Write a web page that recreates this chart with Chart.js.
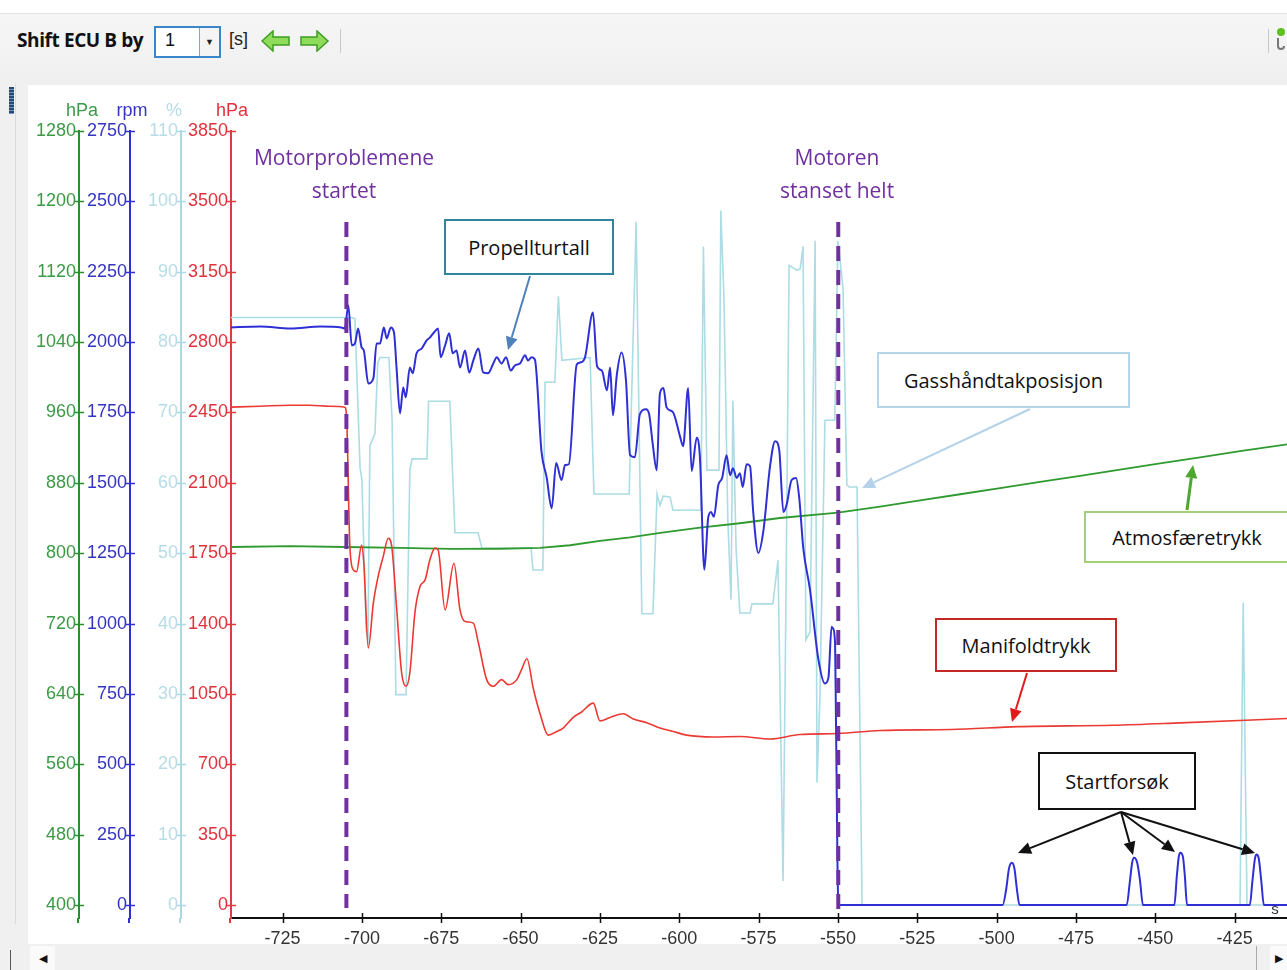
<!DOCTYPE html>
<html>
<head>
<meta charset="utf-8">
<script src="https://cdn.jsdelivr.net/npm/chart.js@4.4.1/dist/chart.umd.min.js"></script>
<style>
  html, body { margin: 0; padding: 0; }
  body { width: 1287px; height: 970px; overflow: hidden; position: relative; background: #fff; font-family: "Open Sans", sans-serif; }
  .toolbar { position: absolute; left: 0; top: 13px; width: 1287px; height: 71px; background: linear-gradient(#f6f6f6, #efefef); border-top: 1px solid #e2e2e2; }
  .tb-label { position: absolute; left: 17px; top: 13px; font-weight: bold; font-size: 19px; color: #111; letter-spacing: -0.4px; }
  .tb-select { position: absolute; left: 154px; top: 12px; width: 63px; height: 28px; border: 2px solid #3b86c8; background: #fff; }
  .tb-select .val { position: absolute; left: 9px; top: 2px; font-size: 18px; color: #111; font-family: "Liberation Sans", Arial, sans-serif; }
  .tb-select .drop { position: absolute; right: 0; top: 0; width: 19px; height: 28px; border-left: 1px solid #7fa6cc; background: #f4f4f4; font-size: 9px; text-align: center; line-height: 28px; color: #222; }
  .tb-unit { position: absolute; left: 229px; top: 15px; font-size: 18px; color: #222; font-family: "Liberation Sans", Arial, sans-serif; }
  .tb-arrows { position: absolute; left: 261px; top: 16px; }
  .tb-sep { position: absolute; top: 15px; width: 1px; height: 24px; background: #c8c8c8; }
  .leftstrip { position: absolute; left: 0; top: 84px; width: 28px; height: 860px; background: #f0f0f0; }
  .leftstrip .line { position: absolute; left: 15px; top: 0; width: 1px; height: 840px; background: #dadada; }
  .leftstrip .grip { position: absolute; left: 9px; top: 3px; width: 5px; height: 27px; background: repeating-linear-gradient(#27467a 0 2px, #6f8fc0 2px 3px); }
  #chartBox { position: absolute; left: 28px; top: 84px; width: 1259px; height: 860px; }
  .hscroll { position: absolute; left: 0; top: 944px; width: 1287px; height: 26px; background: #f0f0f0; }
  .hscroll .btn { position: absolute; top: 2px; width: 25px; height: 24px; background: #fafafa; font-size: 11px; line-height: 24px; text-align: center; color: #111; }
  .hscroll .vl { position: absolute; width: 1px; background: #555; }
  .title { position: absolute; width: 240px; text-align: center; color: #7030a0; font-size: 21px; line-height: 33px; }
  .ann { position: absolute; box-sizing: border-box; background: #fff; border: 2px solid #333; display: flex; align-items: center; justify-content: center; font-size: 20px; color: #111; }
</style>
</head>
<body>
<div class="toolbar">
  <div class="tb-label">Shift ECU B by</div>
  <div class="tb-select"><span class="val">1</span><div class="drop">&#9660;</div></div>
  <div class="tb-unit">[s]</div>
  <svg class="tb-arrows" width="72" height="22" viewBox="0 0 72 22">
    <polygon points="1,11 12,1 12,7 28,7 28,15 12,15 12,21" fill="#8fdc5a" stroke="#3f9c22" stroke-width="1.5"/>
    <polygon points="67,11 56,1 56,7 40,7 40,15 56,15 56,21" fill="#8fdc5a" stroke="#3f9c22" stroke-width="1.5"/>
  </svg>
  <div class="tb-sep" style="left:340px"></div>
  <div class="tb-sep" style="left:1268px"></div>
  <svg style="position:absolute;left:1274px;top:12px" width="13" height="26" viewBox="0 0 13 26">
    <circle cx="7" cy="6" r="4" fill="#5cc21f"/>
    <path d="M4 12 v8 a3 3 0 0 0 6 0" fill="none" stroke="#777" stroke-width="2"/>
  </svg>
</div>
<div class="leftstrip"><div class="line"></div><div class="grip"></div></div>
<div id="chartBox"><canvas id="ecuChart" width="1259" height="860"></canvas></div>
<div class="hscroll">
  <div class="vl" style="left:10px;top:6px;height:20px"></div>
  <div class="btn" style="left:30px">&#9664;</div>
  <div class="vl" style="left:1256px;top:2px;height:24px;background:#aaa"></div>
  <div class="btn" style="left:1270px;width:17px">&#9654;</div>
</div>

<div class="title" style="left:224px;top:141px">Motorproblemene<br>startet</div>
<div class="title" style="left:717px;top:141px">Motoren<br>stanset helt</div>
<div class="ann" style="left:444px;top:219px;width:170px;height:56px;border-color:#31849b">Propellturtall</div>
<div class="ann" style="left:877px;top:352px;width:253px;height:56px;border-color:#b9d5e8">Gasshåndtakposisjon</div>
<div class="ann" style="left:1084px;top:511px;width:206px;height:52px;border-color:#a3cf7a">Atmosfæretrykk</div>
<div class="ann" style="left:935px;top:618px;width:182px;height:54px;border-color:#c62828">Manifoldtrykk</div>
<div class="ann" style="left:1038px;top:752px;width:158px;height:58px;border-color:#111">Startforsøk</div>

<script>
// time axis in seconds (ECU B shifted), one time array per logged signal
const rpmTime = [
  -742, -732, -722.5, -713, -706.5, -705.4, -704.3, -703.2, -702.2, -701.2,
  -700.1, -699.4, -698, -696.4, -695.4, -694.3, -693.1, -692.2, -690.9, -689.9,
  -689.1, -688, -687, -686.2, -684.9, -684, -682.8, -681.2, -679.6, -678.6,
  -677.3, -676, -675.2, -673.8, -672.5, -671.4, -670.2, -669.1, -667.5, -666.2,
  -664.9, -663.3, -661.8, -660.3, -658.6, -657.5, -656, -654.6, -653.1, -651.8,
  -650.2, -648.6, -647.7, -646.5, -645.5, -643.4, -641.8, -640.2, -638.8, -637.1,
  -636, -634.8, -632.3, -631, -629.7, -627.2, -625.9, -624.4, -622.8, -621.8,
  -620.9, -619.7, -618.2, -616.8, -615.5, -614, -612.4, -610.5, -609.5, -608.4,
  -607.1, -606.1, -605, -604, -602, -599.8, -598.8, -597.2, -596.1, -594.5,
  -593.5, -592.1, -590.9, -590, -589.1, -587.7, -586.5, -585.1, -584, -583.1,
  -581.9, -580.9, -580, -578.8, -577.7, -576.7, -575.1, -573.5, -571.4, -569.8,
  -568.5, -567.2, -566.2, -564.6, -563.2, -562.2, -560.9, -558.8, -556.2, -554.1,
  -553, -552, -551.5, -550.9, -550.6, -549.9, -549.4, -498.1, -497, -496.1,
  -495.2, -494.4, -493.6, -492.8, -459, -458, -457.3, -456.7, -455.7, -454.8,
  -453.9, -444, -443.2, -442.6, -442.1, -441.3, -440.7, -440, -420.2, -419.4,
  -418.6, -418.1, -417.4, -416.6, -415.8, -408
];
const rpmValues = [
  2052, 2055, 2048, 2055, 2052, 2048, 2130, 1988, 1995, 2048,
  1981, 1970, 1853, 1871, 1995, 1995, 2052, 2013, 2052, 2034,
  1910, 1747, 1839, 1804, 1910, 1889, 1960, 1977, 2006, 2016,
  2034, 2048, 1946, 1988, 2031, 1960, 1970, 1910, 1970, 1892,
  1935, 1977, 1892, 1889, 1924, 1946, 1924, 1946, 1899, 1917,
  1924, 1953, 1935, 1946, 1938, 1609, 1520, 1410, 1570, 1510,
  1563, 1566, 1921, 1928, 1946, 2105, 1914, 1899, 1829, 1910,
  1740, 1882, 1963, 1864, 1598, 1591, 1744, 1761, 1744, 1641,
  1545, 1818, 1837, 1768, 1751, 1666, 1630, 1837, 1542, 1660,
  1591, 1191, 1375, 1396, 1379, 1492, 1517, 1598, 1527, 1552,
  1517, 1534, 1485, 1566, 1559, 1396, 1251, 1329, 1559, 1648,
  1616, 1396, 1421, 1510, 1517, 1446, 1265, 1120, 875, 787,
  808, 989, 982, 925, 631, 10, 0, 0, 55, 130,
  150, 130, 55, 0, 0, 85, 150, 168, 150, 85,
  0, 0, 105, 172, 186, 172, 105, 0, 0, 85,
  165, 179, 165, 85, 0, 0
];

const manifoldTime = [
  -742, -732, -722.7, -716.4, -710.1, -705.4, -704.8, -703.8, -702.7, -701.7,
  -700.1, -699.4, -698, -696.4, -694.9, -693.3, -691.7, -690.6, -689.1, -687.5,
  -686.1, -684.9, -683.3, -681.7, -680.1, -678.6, -677, -676, -673.8, -671,
  -669.1, -667.5, -664.9, -663.3, -660.7, -658.6, -656, -653.9, -651.2, -649.7,
  -648, -646, -643.9, -641.3, -638.6, -636.6, -633.4, -630.8, -627.1, -625,
  -621.8, -617.6, -614.5, -610.3, -606.1, -601.9, -597.7, -589.3, -580.9, -571.4,
  -562, -550, -536.7, -514.3, -493.2, -463.3, -442.2, -408
];
const manifoldValues = [
  2476, 2481, 2486, 2486, 2481, 2476, 2411, 1783, 1667, 1658,
  1791, 1700, 1278, 1503, 1634, 1733, 1824, 1783, 1485, 1156,
  1088, 1156, 1454, 1584, 1617, 1717, 1775, 1766, 1468, 1700,
  1468, 1410, 1402, 1303, 1121, 1088, 1121, 1096, 1121, 1171,
  1225, 1077, 953, 845, 863, 880, 933, 960, 1004, 916,
  933, 951, 925, 907, 880, 863, 845, 836, 838, 826,
  848, 853, 868, 873, 887, 894, 906, 928
];

const atmTime = [
  -742, -722.7, -705.4, -688, -672.3, -656.5, -643.9, -634.4, -625, -615.5,
  -606, -593.5, -580.9, -568.3, -550, -536.7, -524.1, -511.5, -498.9, -486.3,
  -473.7, -461.1, -448.5, -435.9, -423.3, -408
];
const atmValues = [
  807, 808, 807, 806, 805, 805, 806, 809, 814, 818,
  823, 829, 834, 840, 846, 853, 860, 867, 874, 881,
  888, 895, 902, 909, 916, 924
];

const throttleTime = [
  -742, -705.4, -703.2, -702.2, -700.6, -700, -698.7, -698.1, -697.5, -695.9,
  -695, -694.3, -691.5, -690.5, -689.3, -686.1, -684.9, -684.2, -679.5, -679,
  -672.3, -670.7, -663.4, -662.2, -646.7, -646.1, -643, -642.3, -639.2, -638.1,
  -637, -628.1, -626.9, -615.8, -613.6, -611.8, -608.3, -607, -606.1, -605.1,
  -602.9, -602, -593.2, -592.4, -591.3, -587.5, -586.9, -585.9, -584.7, -583.7,
  -583.1, -582.1, -580.9, -577.7, -577.1, -570.5, -568.9, -567.3, -566.4, -565.4,
  -562.9, -561.9, -561, -560.1, -558.8, -557.2, -556.6, -555.7, -554.1, -551,
  -550, -548.4, -547.2, -546.5, -544, -542.4, -423.3, -422.3, -421.1, -408
];
const throttleValues = [
  83.5, 83.5, 83.5, 83.3, 62.2, 60.4, 39.1, 37.7, 65.3, 67.0,
  77.1, 77.8, 77.8, 68.9, 29.9, 29.9, 61.8, 63.4, 63.4, 71.6,
  71.6, 52.9, 52.9, 50.7, 50.7, 47.6, 47.6, 74.3, 74.3, 86.5,
  77.4, 77.8, 58.4, 58.4, 97.1, 41.4, 41.4, 58.4, 56.8, 58.1,
  58.0, 56.1, 56.1, 93.6, 61.8, 61.8, 98.7, 85.9, 54.7, 43.4,
  71.7, 50.5, 41.5, 41.5, 42.8, 42.8, 49.0, 3.4, 43.0, 90.9,
  90.2, 90.4, 93.6, 37.7, 38.8, 94.4, 17.4, 29.2, 68.9, 68.9,
  94.4, 87.7, 59.7, 59.4, 59.4, 0, 0, 43.0, 0, 0
];

// marked events: engine trouble begins, engine stopped
const eventTimes = [-704.9, -549.9];

// visible window and axis ticks
const timeMin = -741.26, timeMax = -408.5, timeStep = 25;
const atmAxis = { min: 385.2, max: 1280, first: 400, step: 80 };
const rpmAxis = { min: -46.2, max: 2750, first: 0, step: 250 };
const thrAxis = { min: -1.85, max: 110, first: 0, step: 10 };
const manAxis = { min: -64.7, max: 3850, first: 0, step: 350 };

const pts = (ts, vs) => ts.map((t, i) => ({ x: t, y: vs[i] }));

function yAxis(cfg, weight, width, lineColor, labelColor) {
  return {
    type: 'linear', position: 'left', weight: weight,
    min: cfg.min, max: cfg.max,
    afterFit: s => { s.width = width; },
    afterBuildTicks: s => {
      const list = [];
      for (let v = cfg.first; v <= cfg.max + 1e-6; v += cfg.step) list.push({ value: v });
      s.ticks = list;
    },
    grid: { drawOnChartArea: false, drawTicks: false },
    border: { color: lineColor, width: 2 },
    ticks: { padding: 3, color: labelColor, callback: v => Math.round(v) }
  };
}

function arrow(ctx, x1, y1, x2, y2, color, width) {
  const a = Math.atan2(y2 - y1, x2 - x1), len = 13, half = 6;
  const bx = x2 - len * Math.cos(a), by = y2 - len * Math.sin(a);
  ctx.strokeStyle = color; ctx.fillStyle = color; ctx.lineWidth = width;
  ctx.beginPath(); ctx.moveTo(x1, y1); ctx.lineTo(bx, by); ctx.stroke();
  ctx.beginPath();
  ctx.moveTo(x2, y2);
  ctx.lineTo(bx + half * Math.sin(a), by - half * Math.cos(a));
  ctx.lineTo(bx - half * Math.sin(a), by + half * Math.cos(a));
  ctx.closePath(); ctx.fill();
}

const overlay = {
  id: 'overlay',
  afterDatasetsDraw(chart) {
    const { ctx, chartArea, scales } = chart;
    ctx.save();
    // event markers
    ctx.strokeStyle = '#7030a0'; ctx.lineWidth = 4; ctx.setLineDash([15, 9]);
    eventTimes.forEach((t, i) => {
      const x = scales.x.getPixelForValue(t);
      ctx.beginPath(); ctx.moveTo(x, chartArea.top + 91); ctx.lineTo(x, chartArea.bottom - (i ? 6 : 10)); ctx.stroke();
    });
    ctx.setLineDash([]);
    // callout arrows (canvas pixels, matching the html boxes)
    arrow(ctx, 502, 192, 480, 266, '#4f81bd', 2);
    arrow(ctx, 1002, 325, 834, 404, '#b4d2e8', 2);
    arrow(ctx, 1159, 426, 1165, 381, '#4ea72e', 3);
    arrow(ctx, 999, 589, 984, 638, '#e31a1c', 2);
    [[990, 769], [1105, 771], [1147, 768], [1227, 769]].forEach(p => arrow(ctx, 1093, 728, p[0], p[1], '#111', 2));
    ctx.restore();
  },
  afterDraw(chart) {
    const { ctx, chartArea, scales } = chart;
    ctx.save();
    const units = [['yAtm', 'hPa', 3], ['yRpm', 'rpm', 2], ['yThr', '%', -7], ['yMan', 'hPa', 1]];
    ctx.font = '18px "Liberation Sans", Arial, sans-serif';
    ctx.textAlign = 'center'; ctx.textBaseline = 'middle';
    units.forEach(u => {
      const s = scales[u[0]];
      const x = s.right;
      ctx.strokeStyle = s.options.border.color; ctx.lineWidth = 1.5;
      s.ticks.forEach(tk => {
        const y = Math.round(s.getPixelForValue(tk.value)) + 0.5;
        ctx.beginPath(); ctx.moveTo(x - 4, y); ctx.lineTo(x + 5, y); ctx.stroke();
      });
      ctx.lineWidth = 2;
      ctx.beginPath(); ctx.moveTo(x - 1, chartArea.bottom); ctx.lineTo(x - 1, chartArea.bottom + 5); ctx.stroke();
      ctx.fillStyle = s.options.ticks.color;
      ctx.fillText(u[1], x + u[2], 27);
    });
    ctx.strokeStyle = '#111'; ctx.lineWidth = 1.5;
    scales.x.ticks.forEach(tk => {
      const x = Math.round(scales.x.getPixelForValue(tk.value)) + 0.5;
      ctx.beginPath(); ctx.moveTo(x, chartArea.bottom - 5); ctx.lineTo(x, chartArea.bottom + 5); ctx.stroke();
    });
    ctx.fillStyle = '#333'; ctx.font = '15px "Liberation Sans", Arial, sans-serif';
    ctx.fillText('s', chartArea.right - 12, chartArea.bottom - 8);
    ctx.restore();
  }
};

Chart.defaults.font.family = '"Liberation Sans", Arial, sans-serif';
Chart.defaults.font.size = 18;

new Chart(document.getElementById('ecuChart'), {
  type: 'line',
  data: {
    datasets: [
      { label: 'Propellturtall', data: pts(rpmTime, rpmValues), yAxisID: 'yRpm', borderColor: '#2f30d4', borderWidth: 2, pointRadius: 0, cubicInterpolationMode: 'monotone' },
      { label: 'Manifoldtrykk', data: pts(manifoldTime, manifoldValues), yAxisID: 'yMan', borderColor: '#ea3a33', borderWidth: 1.6, pointRadius: 0, cubicInterpolationMode: 'monotone' },
      { label: 'Atmosfæretrykk', data: pts(atmTime, atmValues), yAxisID: 'yAtm', borderColor: '#2f9a2f', borderWidth: 1.8, pointRadius: 0 },
      { label: 'Gasshåndtakposisjon', data: pts(throttleTime, throttleValues), yAxisID: 'yThr', borderColor: '#acdce4', borderWidth: 1.6, pointRadius: 0 }
    ]
  },
  options: {
    responsive: false,
    animation: false,
    devicePixelRatio: 1,
    layout: { padding: { top: 47, right: 0, bottom: 0, left: 0 } },
    plugins: { legend: { display: false }, tooltip: { enabled: false } },
    scales: {
      x: {
        type: 'linear', min: timeMin, max: timeMax,
        afterFit: s => { s.height = 26; },
        grid: { drawOnChartArea: false, drawTicks: false },
        border: { color: '#111', width: 2 },
        ticks: { stepSize: timeStep, maxTicksLimit: 20, includeBounds: false, padding: 10, color: '#333', maxRotation: 0, callback: v => v }
      },
      yAtm: yAxis(atmAxis, 4, 51, '#2a8f2a', '#3b9a45'),
      yRpm: yAxis(rpmAxis, 3, 51, '#3030cc', '#3434c0'),
      yThr: yAxis(thrAxis, 2, 51, '#acd8e4', '#b6dce6'),
      yMan: yAxis(manAxis, 1, 50, '#e23b3b', '#e0323c')
    }
  },
  plugins: [overlay]
});
</script>
</body>
</html>
